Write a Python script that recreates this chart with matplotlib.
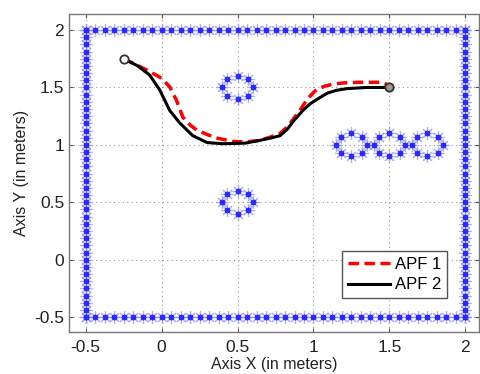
import numpy as np
import matplotlib
matplotlib.use("Agg")
import matplotlib.pyplot as plt

# Boundary and obstacle definitions
boundary_min = -0.5
boundary_max = 2.0
boundary_step = 0.0625
obstacle_centers_x = [0.5, 0.5, 1.25, 1.5, 1.75]
obstacle_centers_y = [1.5, 0.5, 1.0, 1.0, 1.0]
obstacle_radius = 0.1
obstacle_points = 8

# Paths
apf1_x = [-0.25, -0.17, -0.08, 0.0, 0.053, 0.097, 0.14, 0.19, 0.23, 0.30, 0.36, 0.47, 0.55, 0.65, 0.72, 0.78, 0.83, 0.87, 0.92, 0.96, 1.01, 1.07, 1.13, 1.20, 1.30, 1.44, 1.50]
apf1_y = [1.75, 1.70, 1.64, 1.58, 1.505, 1.39, 1.24, 1.17, 1.13, 1.09, 1.06, 1.03, 1.025, 1.04, 1.07, 1.10, 1.16, 1.23, 1.32, 1.40, 1.47, 1.51, 1.53, 1.54, 1.545, 1.545, 1.52]
apf2_x = [-0.25, -0.16, -0.08, -0.013, 0.053, 0.12, 0.205, 0.30, 0.40, 0.55, 0.65, 0.72, 0.78, 0.83, 0.87, 0.93, 0.98, 1.04, 1.09, 1.15, 1.22, 1.35, 1.50]
apf2_y = [1.75, 1.69, 1.61, 1.48, 1.30, 1.19, 1.08, 1.02, 1.01, 1.015, 1.04, 1.06, 1.08, 1.14, 1.21, 1.30, 1.36, 1.41, 1.45, 1.475, 1.49, 1.50, 1.50]
start_pt = (-0.25, 1.75)
goal_pt = (1.5, 1.5)

xticks = [-0.5, 0, 0.5, 1, 1.5, 2]
yticks = [-0.5, 0, 0.5, 1, 1.5, 2]
xtick_labels = ["-0.5", "0", "0.5", "1", "1.5", "2"]
ytick_labels = ["-0.5", "0", "0.5", "1", "1.5", "2"]

plt.rcParams['font.family'] = ['Liberation Sans', 'DejaVu Sans']

fig = plt.figure(figsize=(4.81, 3.74), dpi=100)
ax = fig.add_axes([69/481, (374-332)/374, (479-69)/481, (332-14)/374])

# boundary points
s = np.arange(boundary_min, boundary_max + 1e-9, boundary_step)
bx = np.concatenate([s, s, np.full_like(s, boundary_min), np.full_like(s, boundary_max)])
by = np.concatenate([np.full_like(s, boundary_min), np.full_like(s, boundary_max), s, s])
# obstacles
ang = np.linspace(0, 2*np.pi, obstacle_points, endpoint=False)
ox = np.concatenate([cx + obstacle_radius*np.cos(ang) for cx in obstacle_centers_x])
oy = np.concatenate([cy + obstacle_radius*np.sin(ang) for cy in obstacle_centers_y])

ast = (8, 2, 0)
for xx, yy in [(bx, by), (ox, oy)]:
    ax.plot(xx, yy, linestyle='none', marker=ast, markersize=9, color='#9a9aff', markeredgewidth=0.9, alpha=0.75, zorder=3)
    ax.plot(xx, yy, linestyle='none', marker=ast, markersize=4, color='#2a2aff', markeredgewidth=1.0, zorder=3)

l1, = ax.plot(apf1_x, apf1_y, '--', color='red', lw=2.5, dashes=(3, 1.6), label='APF 1', zorder=4)
l2, = ax.plot(apf2_x, apf2_y, '-', color='black', lw=2.2, label='APF 2', zorder=5)
ax.plot(*start_pt, 'o', mfc='white', mec='#333333', ms=6, mew=1.3, zorder=6)
ax.plot(*goal_pt, 'o', mfc='#999999', mec='#333333', ms=6, mew=1.3, zorder=6)

ax.set_xlim(-0.61, 2.09)
ax.set_ylim(-0.63, 2.14)
ax.set_xticks(xticks)
ax.set_xticklabels(xtick_labels)
ax.set_yticks(yticks)
ax.set_yticklabels(ytick_labels)
ax.grid(True, linestyle=(0, (1, 3)), color='#999999', lw=0.8)
ax.tick_params(direction='in', top=True, right=True, labelsize=12.5, length=3, color='#555555', labelcolor='#222222')
ax.tick_params(axis='x', pad=6)
for sp in ax.spines.values():
    sp.set_color('#777777')
    sp.set_linewidth(1.0)
ax.set_xlabel('Axis X (in meters)', fontsize=11.5, labelpad=1, color='#222222')
ax.set_ylabel('Axis Y (in meters)', fontsize=11.5, labelpad=4, color='#222222')

leg = ax.legend(handles=[l1, l2], loc='lower right', bbox_to_anchor=(0.942, 0.08), fontsize=12,
                fancybox=False, edgecolor='#555555', framealpha=1, handlelength=2.5,
                borderpad=0.35, labelspacing=0.35, handletextpad=0.3)
leg.get_frame().set_linewidth(1.0)

fig.savefig('out.png', dpi=100)
